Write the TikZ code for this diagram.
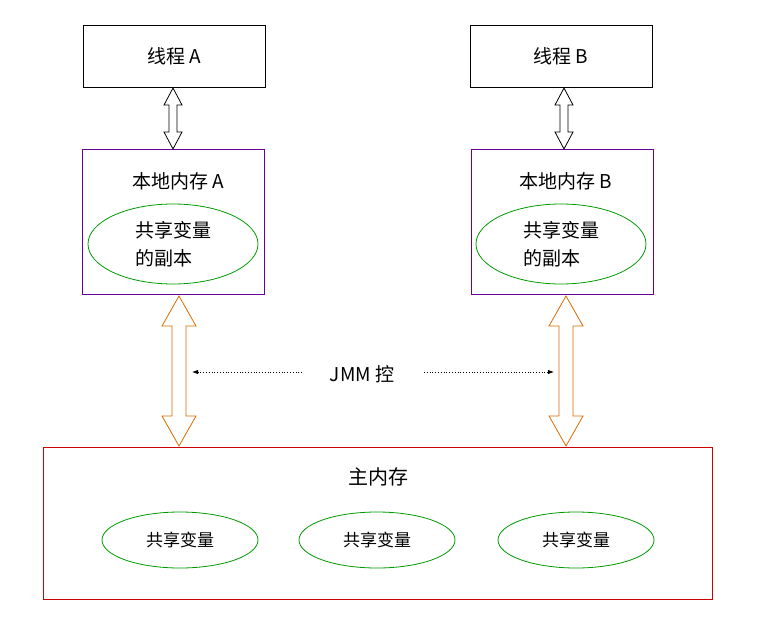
\documentclass[tikz,border=0pt]{standalone}
\usepackage{fontspec}
\setmainfont{Noto Sans CJK SC}
\usetikzlibrary{arrows.meta,positioning,shapes.geometric}
\tikzset{box/.style={draw, thick, minimum width=182pt, minimum height=62pt, font=\fontsize{19}{20}\selectfont}}
\tikzset{mem/.style={draw=violet!80!blue, thick, minimum width=182pt, minimum height=145pt}}
\tikzset{var/.style={ellipse, draw=green!60!black, thick, inner sep=0pt}}
\tikzset{bigvar/.style={var, minimum width=170pt, minimum height=80pt, align=left, font=\fontsize{19}{28}\selectfont}}
\tikzset{smallvar/.style={var, minimum width=156pt, minimum height=56pt, font=\fontsize{17}{18}\selectfont}}
% hollow double arrow: colour, x, top y, bottom y, shaft half width, head half width, head length
\newcommand\dblarrow[7]{%
  \draw[#1, thick, line join=miter, fill=white]
    (#2,#3) -- (#2+#6,#3+#7) -- (#2+#5,#3+#7) -- (#2+#5,#4-#7) -- (#2+#6,#4-#7) --
    (#2,#4) -- (#2-#6,#4-#7) -- (#2-#5,#4-#7) -- (#2-#5,#3+#7) -- (#2-#6,#3+#7) -- cycle;}

\begin{document}
\begin{tikzpicture}[x=1pt, y=-1pt]
    \useasboundingbox (0,0) rectangle (760,626);

    \node[box] (ta) at (174,56) {线程 A};
    \node[box] (tb) at (561,56) {线程 B};

    \node[mem] (ma) at (173,222) {};
    \node[mem] (mb) at (562,222) {};
    \node[font=\fontsize{19}{20}\selectfont] at (178,181) {本地内存 A};
    \node[font=\fontsize{19}{20}\selectfont] at (566,181) {本地内存 B};
    \node[bigvar] (ca) at (173,244) {共享变量\\的副本};
    \node[bigvar] (cb) at (561,244) {共享变量\\的副本};

    \node[draw=red!80!black, thick, minimum width=669pt, minimum height=152pt] (main) at (377.5,523) {};
    \node[font=\fontsize{20}{20}\selectfont] at (378,477) {主内存};
    \foreach \n/\x in {v1/180, v2/377, v3/576}
    \node[smallvar] (\n) at (\x,540) {共享变量};

    \dblarrow{black}{173}{88}{149}{4}{9}{17}
    \dblarrow{black}{564}{88}{149}{4}{9}{17}
    \dblarrow{orange!85!black}{179}{296}{446}{7}{17}{30}
    \dblarrow{orange!85!black}{566}{296}{446}{7}{17}{30}

    \node[font=\fontsize{19}{20}\selectfont] (jmm) at (362,374) {JMM 控};
    \coordinate (la) at (192,372);
    \coordinate (lb) at (554,372);
    \draw[dotted, thick, -{Latex[length=6pt]}] (302,372) -- (la);
    \draw[dotted, thick, -{Latex[length=6pt]}] (424,372) -- (lb);
\end{tikzpicture}
\end{document}
